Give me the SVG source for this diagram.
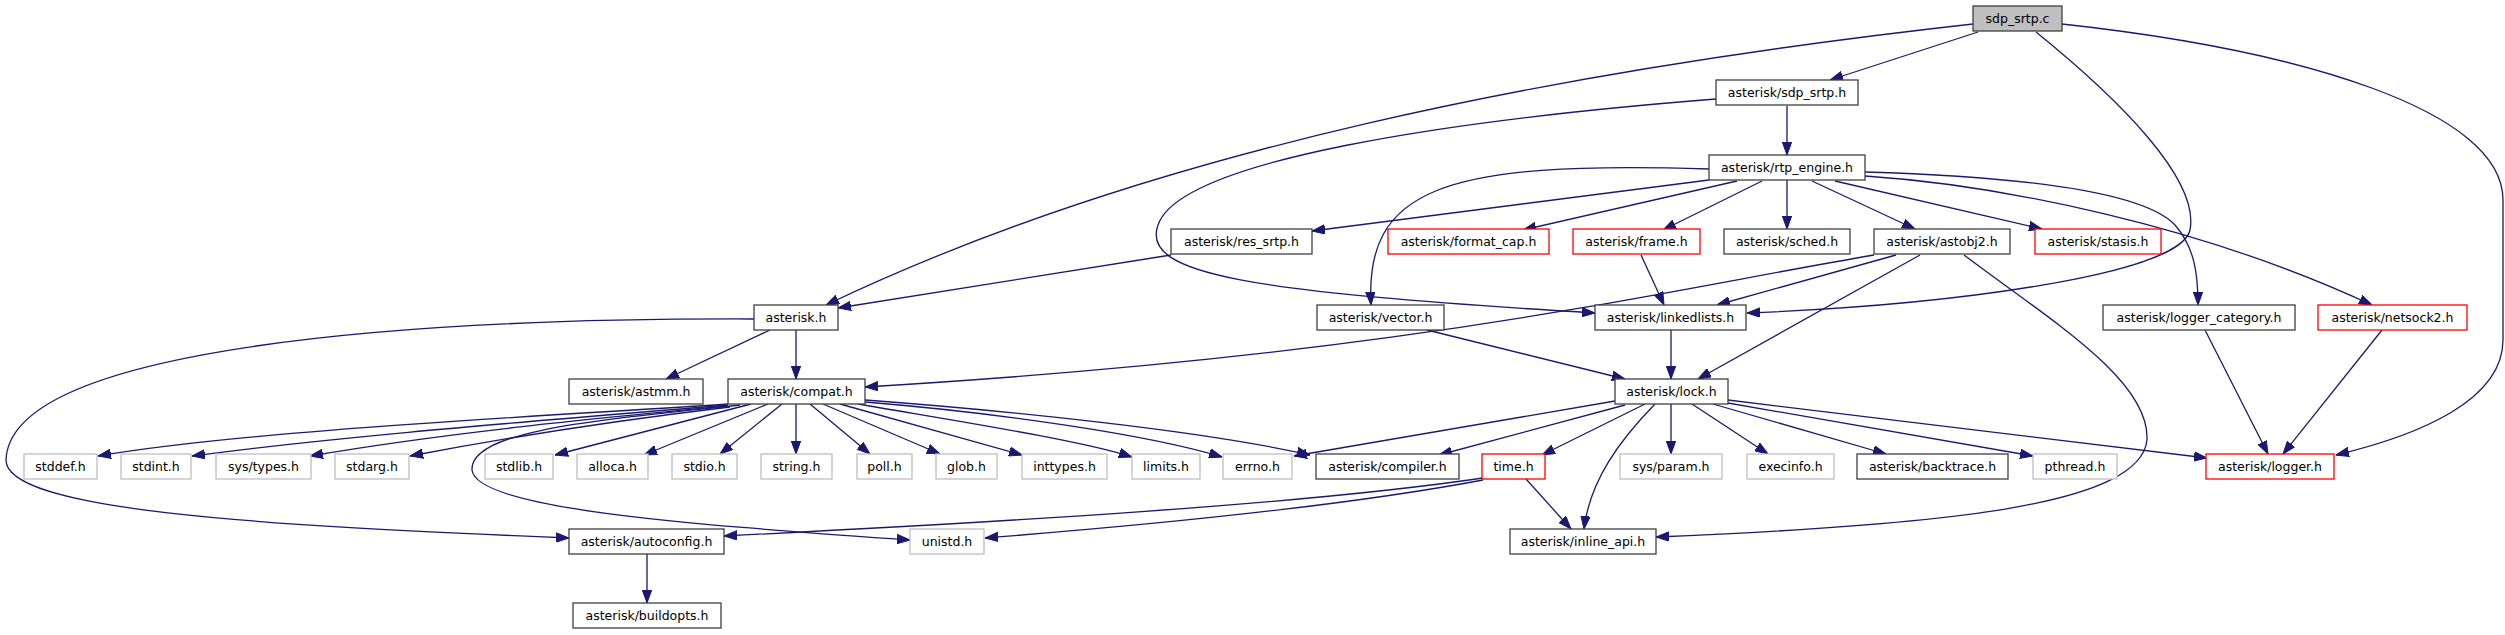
<svg xmlns="http://www.w3.org/2000/svg" width="2505" height="635" viewBox="0 0 2505 635">
<style>
rect{stroke-width:1.3}
.n{fill:#fff;stroke:#404040}
.r{fill:#fff;stroke:#ff0000}
.g{fill:#fff;stroke:#bfbfbf}
.f{fill:#bfbfbf;stroke:#404040}
text{font-family:"DejaVu Sans",Verdana,sans-serif;font-size:12.5px;fill:#000;text-anchor:middle}
#edges path{fill:none;stroke:#191970;stroke-width:1.3;marker-end:url(#a)}
</style>
<defs>
<marker id="a" markerWidth="13" markerHeight="10" refX="13" refY="5" orient="auto" markerUnits="userSpaceOnUse" viewBox="0 0 13 10"><path d="M0,0.3 L13,5 L0,9.7 z" fill="#191970" stroke="#191970" stroke-width="1"/></marker>
</defs>
<rect width="2505" height="635" fill="#fff"/>
<g id="edges">
<path d="M1978,32 L1830,80"/>
<path d="M1973,24 C1560,70 1150,150 826,305"/>
<path d="M2036,32 C2120,100 2200,180 2190,230 C2180,275 1950,305 1747,313"/>
<path d="M2062,24 C2300,50 2503,110 2503,200 L2503,340 C2503,400 2420,435 2336,455"/>
<path d="M1787,106 L1787,155"/>
<path d="M1716,99 C1450,120 1180,160 1158,225 C1140,275 1250,292 1595,313"/>
<path d="M1709,180 L1312,231"/>
<path d="M1737,181 L1523,230"/>
<path d="M1762,181 L1663,230"/>
<path d="M1787,180 L1787,229"/>
<path d="M1812,181 L1915,229"/>
<path d="M1835,181 L2042,229"/>
<path d="M1709,169 C1440,160 1365,190 1371,305"/>
<path d="M1865,172 C2000,176 2140,188 2175,225 C2195,248 2198,275 2198,305"/>
<path d="M1865,176 C2000,185 2200,225 2372,305"/>
<path d="M1171,255 L838,308"/>
<path d="M1641,255 L1664,305"/>
<path d="M1896,255 L1717,305"/>
<path d="M1874,255 C1640,295 1400,355 865,387"/>
<path d="M1920,255 L1698,379"/>
<path d="M1964,255 C2050,320 2150,380 2147,440 C2140,505 1950,525 1656,537"/>
<path d="M1427,330 L1625,379"/>
<path d="M1671,330 L1671,379"/>
<path d="M770,330 L666,379"/>
<path d="M796,330 L796,379"/>
<path d="M754,319 C420,318 10,345 6,460 C6,510 250,525 569,538"/>
<path d="M728,404 C550,416 250,430 98,456"/>
<path d="M728,405 C550,420 350,435 192,456"/>
<path d="M728,406 C600,418 450,432 310,456"/>
<path d="M730,407 C620,420 520,435 410,456"/>
<path d="M751,404 L555,455"/>
<path d="M768,404 L644,455"/>
<path d="M782,404 L720,454"/>
<path d="M796,404 L796,454"/>
<path d="M810,404 L870,454"/>
<path d="M823,404 L940,454"/>
<path d="M840,404 L1022,455"/>
<path d="M858,404 C950,420 1080,440 1132,457"/>
<path d="M865,402 C1000,413 1150,435 1222,457"/>
<path d="M865,400 C1000,410 1200,430 1310,455"/>
<path d="M740,405 C600,420 470,430 472,470 C476,510 700,525 910,540"/>
<path d="M1615,401 L1294,456"/>
<path d="M1625,405 L1439,455"/>
<path d="M1645,404 L1542,455"/>
<path d="M1655,404 C1620,440 1590,480 1584,529"/>
<path d="M1671,404 L1671,454"/>
<path d="M1692,404 L1768,454"/>
<path d="M1713,404 L1886,454"/>
<path d="M1728,403 L2033,456"/>
<path d="M1728,400 L2207,458"/>
<path d="M1483,478 C1300,505 1000,522 724,536"/>
<path d="M1483,480 C1350,505 1150,525 985,538"/>
<path d="M1526,479 L1571,529"/>
<path d="M647,554 L647,603"/>
<path d="M2205,330 L2268,454"/>
<path d="M2382,330 L2283,454"/>
</g>
<g id="sdp_srtp_c"><rect class="f" x="1973" y="6" width="89" height="25"/><text x="2017.5" y="23">sdp_srtp.c</text></g>
<g id="sdp_srtp_h"><rect class="n" x="1716" y="80" width="142" height="25"/><text x="1787" y="97">asterisk/sdp_srtp.h</text></g>
<g id="rtp_engine_h"><rect class="n" x="1709" y="155" width="156" height="25"/><text x="1787" y="172">asterisk/rtp_engine.h</text></g>
<g id="res_srtp_h"><rect class="n" x="1171" y="229" width="141" height="25"/><text x="1241.5" y="246">asterisk/res_srtp.h</text></g>
<g id="format_cap_h"><rect class="r" x="1388" y="229" width="161" height="25"/><text x="1468.5" y="246">asterisk/format_cap.h</text></g>
<g id="frame_h"><rect class="r" x="1573" y="229" width="127" height="25"/><text x="1636.5" y="246">asterisk/frame.h</text></g>
<g id="sched_h"><rect class="n" x="1724" y="229" width="126" height="25"/><text x="1787" y="246">asterisk/sched.h</text></g>
<g id="astobj2_h"><rect class="n" x="1874" y="229" width="136" height="25"/><text x="1942" y="246">asterisk/astobj2.h</text></g>
<g id="stasis_h"><rect class="r" x="2035" y="229" width="126" height="25"/><text x="2098" y="246">asterisk/stasis.h</text></g>
<g id="asterisk_h"><rect class="n" x="754" y="305" width="84" height="25"/><text x="796" y="322">asterisk.h</text></g>
<g id="vector_h"><rect class="n" x="1317" y="305" width="127" height="25"/><text x="1380.5" y="322">asterisk/vector.h</text></g>
<g id="linkedlists_h"><rect class="n" x="1595" y="305" width="151" height="25"/><text x="1670.5" y="322">asterisk/linkedlists.h</text></g>
<g id="logger_category_h"><rect class="n" x="2103" y="305" width="192" height="25"/><text x="2199" y="322">asterisk/logger_category.h</text></g>
<g id="netsock2_h"><rect class="r" x="2318" y="305" width="149" height="25"/><text x="2392.5" y="322">asterisk/netsock2.h</text></g>
<g id="astmm_h"><rect class="n" x="569" y="379" width="134" height="25"/><text x="636" y="396">asterisk/astmm.h</text></g>
<g id="compat_h"><rect class="n" x="728" y="379" width="137" height="25"/><text x="796.5" y="396">asterisk/compat.h</text></g>
<g id="lock_h"><rect class="n" x="1615" y="379" width="113" height="25"/><text x="1671.5" y="396">asterisk/lock.h</text></g>
<g id="stddef_h"><rect class="g" x="24" y="454" width="73" height="25"/><text x="60.5" y="471">stddef.h</text></g>
<g id="stdint_h"><rect class="g" x="121" y="454" width="70" height="25"/><text x="156" y="471">stdint.h</text></g>
<g id="sys_types_h"><rect class="g" x="216" y="454" width="95" height="25"/><text x="263.5" y="471">sys/types.h</text></g>
<g id="stdarg_h"><rect class="g" x="335" y="454" width="74" height="25"/><text x="372" y="471">stdarg.h</text></g>
<g id="stdlib_h"><rect class="g" x="485" y="454" width="68" height="25"/><text x="519" y="471">stdlib.h</text></g>
<g id="alloca_h"><rect class="g" x="577" y="454" width="71" height="25"/><text x="612.5" y="471">alloca.h</text></g>
<g id="stdio_h"><rect class="g" x="672" y="454" width="65" height="25"/><text x="704.5" y="471">stdio.h</text></g>
<g id="string_h"><rect class="g" x="761" y="454" width="71" height="25"/><text x="796.5" y="471">string.h</text></g>
<g id="poll_h"><rect class="g" x="857" y="454" width="55" height="25"/><text x="884.5" y="471">poll.h</text></g>
<g id="glob_h"><rect class="g" x="936" y="454" width="61" height="25"/><text x="966.5" y="471">glob.h</text></g>
<g id="inttypes_h"><rect class="g" x="1022" y="454" width="85" height="25"/><text x="1064.5" y="471">inttypes.h</text></g>
<g id="limits_h"><rect class="g" x="1132" y="454" width="68" height="25"/><text x="1166" y="471">limits.h</text></g>
<g id="errno_h"><rect class="g" x="1223" y="454" width="69" height="25"/><text x="1257.5" y="471">errno.h</text></g>
<g id="compiler_h"><rect class="n" x="1316" y="454" width="143" height="25"/><text x="1387.5" y="471">asterisk/compiler.h</text></g>
<g id="time_h"><rect class="r" x="1482" y="454" width="63" height="25"/><text x="1513.5" y="471">time.h</text></g>
<g id="sys_param_h"><rect class="g" x="1620" y="454" width="102" height="25"/><text x="1671" y="471">sys/param.h</text></g>
<g id="execinfo_h"><rect class="g" x="1747" y="454" width="87" height="25"/><text x="1790.5" y="471">execinfo.h</text></g>
<g id="backtrace_h"><rect class="n" x="1857" y="454" width="151" height="25"/><text x="1932.5" y="471">asterisk/backtrace.h</text></g>
<g id="pthread_h"><rect class="g" x="2033" y="454" width="84" height="25"/><text x="2075" y="471">pthread.h</text></g>
<g id="logger_h"><rect class="r" x="2206" y="454" width="128" height="25"/><text x="2270" y="471">asterisk/logger.h</text></g>
<g id="autoconfig_h"><rect class="n" x="569" y="529" width="155" height="25"/><text x="646.5" y="546">asterisk/autoconfig.h</text></g>
<g id="unistd_h"><rect class="g" x="910" y="529" width="74" height="25"/><text x="947" y="546">unistd.h</text></g>
<g id="inline_api_h"><rect class="n" x="1510" y="529" width="146" height="25"/><text x="1583" y="546">asterisk/inline_api.h</text></g>
<g id="buildopts_h"><rect class="n" x="573" y="603" width="148" height="25"/><text x="647" y="620">asterisk/buildopts.h</text></g>
</svg>
